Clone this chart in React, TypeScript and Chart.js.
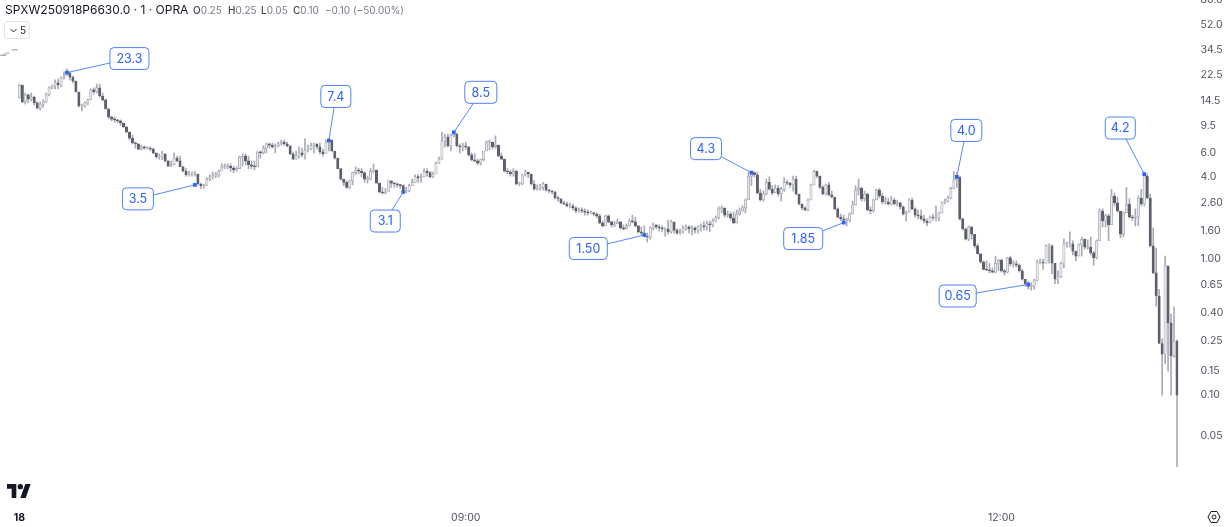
import React, { useEffect, useRef } from "react";
import { Chart, registerables } from "chart.js";

Chart.register(...registerables);

const closes = [
  31,32,32.5,null,34,34,18.9,14.2,16.0,14.9,
  15.4,14.0,12.8,13.7,14.2,16.0,18.0,18.6,19.6,18.9,
  21.3,22.0,23.2,21.6,20.2,16.8,13.3,13.3,14.0,14.7,
  17.4,16.8,18.0,15.7,14.7,12.6,11.0,10.6,10.5,10.3,
  9.95,9.3,8.55,7.7,7.1,7.0,6.4,6.65,6.5,6.5,
  6.4,6.0,5.6,5.6,5.9,5.25,4.8,4.9,5.5,5.25,
  4.75,4.4,4.15,4.2,4.2,4.2,3.55,3.45,3.45,3.85,
  4.0,4.05,4.15,4.4,4.75,4.75,4.8,4.65,4.5,4.6,
  5.6,5.7,5.25,4.9,4.8,4.75,6.1,6.0,6.5,7.0,
  6.85,6.65,6.75,7.0,7.2,7.0,6.75,5.9,5.4,5.7,
  6.0,5.8,6.3,6.4,6.75,7.0,6.65,6.1,5.9,7.1,
  7.45,6.2,5.5,4.6,3.85,3.65,3.35,3.75,4.3,4.5,
  4.4,4.3,3.85,3.85,4.4,4.5,3.6,3.1,3.05,3.1,
  3.75,3.6,3.55,3.5,3.45,3.15,3.15,3.45,3.65,4.0,
  3.95,4.0,4.4,4.3,4.0,4.2,5.05,5.4,7.35,7.85,
  6.75,8.1,8.25,6.75,6.65,6.75,6.65,5.8,5.35,5.25,
  5.05,5.35,6.2,7.2,7.2,6.65,6.85,5.7,5.4,4.4,
  4.35,4.2,4.4,3.55,3.55,4.15,4.35,4.2,3.55,3.25,
  3.3,3.35,3.55,3.2,3.15,3.1,2.8,2.76,2.58,2.53,
  2.45,2.45,2.37,2.25,2.29,2.25,2.21,2.18,2.18,2.14,
  2.07,1.84,1.75,2.07,1.87,1.78,1.81,1.87,1.69,1.66,
  1.75,1.90,1.87,1.75,1.58,1.55,1.47,1.45,1.69,1.78,
  1.72,1.69,1.66,1.66,1.58,1.87,1.63,1.55,1.58,1.66,
  1.72,1.66,1.69,1.63,1.72,1.75,1.72,1.81,1.78,1.90,
  2.0,2.33,2.37,2.10,2.14,2.0,1.84,2.14,2.25,2.37,
  2.71,4.05,4.3,4.15,3.05,2.71,3.0,3.65,3.25,3.05,
  3.3,3.0,3.25,3.65,3.6,3.5,3.85,3.0,2.53,2.37,
  2.29,2.71,3.5,4.4,4.05,3.35,3.0,3.5,2.95,2.85,
  2.33,2.03,1.97,1.93,1.93,2.14,2.49,3.2,3.3,2.76,
  3.0,2.29,2.25,2.71,3.2,2.9,2.62,2.62,2.53,2.71,
  2.53,2.58,2.41,2.14,2.21,2.71,2.33,2.10,2.07,1.97,
  1.90,1.84,2.03,2.0,2.0,2.18,2.58,2.66,2.8,3.3,
  3.8,4.0,1.97,1.66,1.40,1.72,1.52,1.25,1.09,0.95,
  0.84,0.83,0.82,0.80,0.93,0.98,0.82,0.80,1.02,0.92,
  0.92,0.90,0.82,0.71,0.66,0.63,0.63,0.70,0.95,0.95,
  0.93,1.25,1.25,0.93,0.71,0.74,0.93,1.29,1.29,1.29,
  1.14,1.05,1.27,1.40,1.22,1.22,1.11,1.02,1.36,2.25,
  1.90,2.07,1.78,2.9,2.58,2.25,1.52,2.18,2.53,2.03,
  2.0,2.03,2.8,2.53,4.05,2.8,1.25,0.79,0.535,0.24,
  0.20,0.89,0.34,0.195,0.25,0.10,
];

const highs = [
  31,32,32.5,null,34,34,19.2,18.9,16.5,16.2,
  16.5,15.7,14.2,14.2,14.7,16.5,18.3,18.9,20.6,20.9,
  21.6,23.6,24.8,23.6,22.0,20.2,16.8,13.7,14.2,14.9,
  17.7,18.0,19.2,19.2,16.5,14.9,12.8,11.2,11.0,10.6,
  10.5,9.95,9.45,8.55,8.1,7.2,7.0,6.85,6.75,6.65,
  6.65,6.5,5.9,5.9,6.2,5.9,5.25,5.25,6.0,5.7,
  5.7,4.8,4.6,4.4,4.35,4.4,4.2,3.6,3.55,3.95,
  4.15,4.35,4.3,4.5,5.0,5.0,5.0,5.0,4.8,4.75,
  5.7,5.9,5.9,5.7,5.25,5.25,6.1,6.2,6.75,7.1,
  7.1,7.1,7.0,7.2,7.45,7.45,7.2,6.75,6.1,6.2,
  6.65,6.5,7.6,6.85,7.1,7.1,7.0,7.1,6.4,7.45,
  7.6,7.35,6.2,5.5,4.6,3.85,3.75,3.8,4.35,4.75,
  4.65,4.6,4.35,4.05,4.6,5.0,4.5,3.6,3.35,3.3,
  3.8,3.75,3.65,3.6,3.55,3.5,3.35,3.55,3.85,4.15,
  4.15,4.2,4.6,4.6,4.4,4.35,5.15,5.6,8.55,8.25,
  8.25,8.25,8.55,8.4,7.0,7.1,7.2,6.65,6.0,5.9,
  5.4,5.4,6.2,7.35,7.45,7.0,8.0,6.85,6.0,5.4,
  4.6,4.5,4.6,4.5,3.65,4.2,4.5,4.35,4.2,3.75,
  3.5,3.55,3.65,3.55,3.25,3.2,3.15,2.9,2.76,2.66,
  2.62,2.58,2.53,2.41,2.37,2.37,2.33,2.29,2.25,2.21,
  2.18,2.14,1.90,2.10,2.10,1.90,1.90,1.97,1.87,1.78,
  1.81,1.97,2.10,2.03,1.75,1.72,1.75,1.55,1.72,1.84,
  1.78,1.78,1.75,1.69,1.93,1.93,1.72,1.66,1.66,1.75,
  1.78,1.75,1.75,1.72,1.75,1.81,1.87,1.90,1.90,1.97,
  2.07,2.41,2.45,2.29,2.25,2.21,2.21,2.29,2.37,2.45,
  2.76,4.3,4.4,4.35,4.35,3.25,3.15,3.85,4.0,3.45,
  3.5,3.45,3.35,3.95,3.8,3.65,4.05,4.05,3.0,2.53,
  2.41,2.76,3.55,4.5,4.35,4.05,3.45,3.55,3.65,3.15,
  2.8,2.37,2.14,2.10,2.0,2.18,2.66,3.45,3.85,3.35,
  3.15,3.05,2.41,2.76,3.25,3.3,3.05,2.85,2.8,2.9,
  2.8,2.71,2.62,2.45,2.25,2.76,2.8,2.37,2.29,2.29,
  2.10,1.97,2.07,2.14,2.45,2.21,2.62,2.76,2.9,3.35,
  4.4,4.3,4.0,2.0,1.69,1.75,1.72,1.52,1.29,1.09,
  0.97,0.97,0.93,0.86,1.05,1.0,1.0,0.84,1.03,1.05,
  0.97,0.97,0.92,0.84,0.71,0.69,0.67,0.71,0.98,1.0,
  1.0,1.27,1.29,1.27,0.92,0.82,0.95,1.40,1.33,1.58,
  1.36,1.14,1.29,1.45,1.40,1.38,1.45,1.14,1.38,2.33,
  2.33,2.14,2.14,3.25,3.05,2.85,2.21,2.21,3.35,2.76,
  2.10,2.33,2.9,3.25,4.15,4.2,3.0,1.69,1.20,0.60,
  0.26,1.05,0.87,0.395,0.445,0.255,
];

const lows = [
  31,32,32.5,null,34,34,15.2,14.0,13.7,14.0,
  14.4,13.5,12.6,12.4,13.0,14.0,15.7,17.7,17.7,17.7,
  18.3,20.9,22.4,20.6,19.6,16.8,13.0,12.2,13.0,13.5,
  14.7,16.2,16.5,15.4,14.4,12.6,10.8,10.3,10.1,9.95,
  9.6,9.15,8.4,7.45,7.0,6.5,6.3,6.3,6.4,6.4,
  6.2,5.9,5.5,5.4,5.35,5.15,4.75,4.75,4.9,5.15,
  4.75,4.35,4.05,4.05,4.05,4.05,3.5,3.3,3.3,3.5,
  3.75,3.85,3.95,4.0,4.5,4.6,4.6,4.4,4.3,4.4,
  4.75,4.8,4.9,4.6,4.6,4.5,5.05,5.5,5.9,6.0,
  6.5,6.5,6.0,6.65,6.85,6.85,6.65,5.8,5.35,5.4,
  5.5,5.6,5.4,6.1,6.3,6.0,6.4,5.9,5.7,6.0,
  6.2,6.1,5.4,4.6,3.8,3.45,3.3,3.3,3.5,4.15,
  4.2,4.0,3.65,3.6,3.8,4.3,3.6,3.05,3.0,3.0,
  3.15,3.35,3.35,3.35,3.3,3.1,3.05,3.1,3.45,3.65,
  3.65,3.65,4.0,4.05,3.95,3.95,4.3,5.0,5.4,6.65,
  6.65,6.2,7.85,6.65,6.0,6.2,6.4,5.7,5.25,5.15,
  4.9,4.9,5.25,6.2,6.3,6.4,6.5,5.6,5.35,4.35,
  4.2,4.05,4.05,3.5,3.45,3.5,4.05,3.95,3.5,3.2,
  3.2,3.2,3.2,3.15,3.05,3.0,2.76,2.66,2.53,2.49,
  2.41,2.37,2.29,2.18,2.21,2.18,2.10,2.10,2.14,2.07,
  2.0,1.81,1.72,1.75,1.84,1.72,1.72,1.81,1.66,1.63,
  1.66,1.75,1.84,1.72,1.55,1.50,1.45,1.33,1.40,1.63,
  1.66,1.60,1.58,1.47,1.52,1.55,1.55,1.52,1.52,1.55,
  1.63,1.55,1.50,1.55,1.55,1.60,1.63,1.63,1.58,1.72,
  1.87,1.97,2.18,2.03,2.03,1.93,1.81,1.84,2.10,2.25,
  2.18,2.8,3.45,4.0,3.0,2.66,2.66,2.95,3.2,2.95,
  3.05,2.9,2.66,3.15,3.5,3.35,3.15,2.95,2.49,2.29,
  2.25,2.25,2.71,3.5,3.95,3.3,2.95,2.95,2.9,2.8,
  2.29,2.0,1.90,1.87,1.75,1.87,2.14,2.49,2.95,2.66,
  2.66,2.25,2.14,2.21,2.71,2.8,2.53,2.53,2.49,2.49,
  2.49,2.45,2.33,2.10,1.90,2.21,2.29,2.03,1.97,1.93,
  1.84,1.75,1.84,1.93,1.90,1.90,2.18,2.53,2.62,2.76,
  3.3,3.35,1.93,1.63,1.38,1.36,1.40,1.20,1.09,0.93,
  0.83,0.82,0.79,0.79,0.79,0.82,0.80,0.76,0.79,0.89,
  0.87,0.87,0.80,0.70,0.63,0.60,0.59,0.60,0.69,0.92,
  0.84,0.93,0.93,0.78,0.66,0.66,0.73,0.86,1.22,1.22,
  1.07,0.97,1.09,1.05,1.18,1.18,1.07,0.90,1.0,1.38,
  1.72,1.72,1.36,2.10,2.45,2.21,1.43,1.45,2.37,2.0,
  1.93,1.75,1.75,2.45,2.45,2.76,1.22,0.78,0.45,0.24,
  0.10,0.17,0.15,0.10,0.19,0.03,
];

const sessionOpenIndex = 6;
const sessionOpen = 15.2;

const priceTicks = [80, 52, 34.5, 22.5, 14.5, 9.5, 6, 4, 2.6, 1.6, 1, 0.65, 0.4, 0.25, 0.15, 0.1, 0.05];
const timeTicks: Record<number, string> = { 6: "18", 156: "09:00", 336: "12:00" };

const calloutIndex = [22, 65, 110, 135, 152, 216, 252, 283, 321, 345, 384];
const calloutPrice = [23.3, 3.5, 7.4, 3.1, 8.5, 1.5, 4.3, 1.85, 4.0, 0.65, 4.2];
const calloutText = ["23.3", "3.5", "7.4", "3.1", "8.5", "1.50", "4.3", "1.85", "4.0", "0.65", "4.2"];
const calloutDx = [62.5, -57, 7, -18, 27, -56, -45.5, -40.5, 9.5, -70.5, -24];
const calloutDy = [-14, 14, -44, 29, -40, 13.5, -24, 16, -46.5, 11.5, -46];
const calloutWidth = [39, 31, 30, 30, 32, 38, 31, 39, 31, 37, 30];

const ohlcLetters = ["O", "H", "L", "C"];
const ohlcValues = ["0.25", "0.25", "0.05", "0.10"];
const ohlcLeft = [193, 228, 261, 293];
const ohlcChange = "−0.10 (−50.00%)";

const categories = closes.map((_, i) => {
  const minutes = 6 * 60 + 24 + i;
  return `${String(Math.floor(minutes / 60)).padStart(2, "0")}:${String(minutes % 60).padStart(2, "0")}`;
});

const opens = closes.map((c, i) => {
  if (i === sessionOpenIndex) return sessionOpen;
  return i > 0 && closes[i - 1] != null ? closes[i - 1] : c;
});

const UP_FILL = "#e9eaee";
const UP_EDGE = "#9ea1ab";
const DOWN = "#5d606b";
const WICK = "#a8abb5";
const BLUE = "#2962ff";
const FONT = "Inter, 'Noto Sans', sans-serif";

const calloutPlugin = {
  id: "callouts",
  beforeDatasetsDraw(chart: any) {
    const { ctx, scales } = chart;
    ctx.save();
    calloutIndex.forEach((idx, k) => {
      const px = scales.x.getPixelForValue(idx);
      const py = scales.y.getPixelForValue(calloutPrice[k]);
      const cx = px + calloutDx[k];
      const cy = py + calloutDy[k];
      const w = calloutWidth[k];
      const h = 22;
      ctx.strokeStyle = "#5a87ff";
      ctx.lineWidth = 1;
      ctx.beginPath();
      ctx.moveTo(px, py);
      ctx.lineTo(cx, cy);
      ctx.stroke();
      ctx.beginPath();
      ctx.roundRect(cx - w / 2, cy - h / 2, w, h, 4);
      ctx.fillStyle = "#ffffff";
      ctx.fill();
      ctx.strokeStyle = "#4d80ff";
      ctx.stroke();
      ctx.fillStyle = BLUE;
      ctx.font = `12.5px ${FONT}`;
      ctx.textAlign = "center";
      ctx.textBaseline = "middle";
      ctx.fillText(calloutText[k], cx, cy + 0.5);
    });
    ctx.restore();
  },
};

export default function App() {
  const ref = useRef<HTMLCanvasElement>(null);
  useEffect(() => {
    const isUp = closes.map((c, i) => c != null && c >= (opens[i] as number));
    const chart = new Chart(ref.current as HTMLCanvasElement, {
      type: "bar",
      plugins: [calloutPlugin],
      data: {
        labels: categories,
        datasets: [
          {
            type: "line",
            label: "callouts",
            data: categories.map((_, i) => {
              const k = calloutIndex.indexOf(i);
              return k >= 0 ? calloutPrice[k] : null;
            }),
            showLine: false,
            pointStyle: "rect",
            pointRadius: 2.6,
            pointBackgroundColor: BLUE,
            pointBorderWidth: 0,
            order: 0,
          },
          {
            label: "body",
            data: closes.map((c, i) => (c == null ? null : [opens[i], c])),
            backgroundColor: isUp.map((u) => (u ? UP_FILL : DOWN)),
            borderColor: isUp.map((u) => (u ? UP_EDGE : DOWN)),
            borderWidth: 0.7,
            borderSkipped: false,
            barThickness: 2.4,
            minBarLength: 1,
            grouped: false,
            order: 1,
          },
          {
            label: "wick",
            data: closes.map((c, i) => (c == null ? null : [lows[i], highs[i]])),
            backgroundColor: WICK,
            borderWidth: 0,
            barThickness: 1,
            grouped: false,
            order: 2,
          },
        ] as any,
      },
      options: {
        animation: false,
        responsive: false,
        events: [],
        layout: { padding: 0, autoPadding: false },
        plugins: { legend: { display: false }, tooltip: { enabled: false }, title: { display: false } },
        scales: {
          x: {
            type: "category",
            grid: { display: false, drawTicks: false },
            border: { display: false },
            afterFit(scale: any) {
              scale.height = 22;
              scale.paddingLeft = 0;
              scale.paddingRight = 0;
            },
            ticks: {
              autoSkip: false,
              maxRotation: 0,
              padding: 6,
              color: (c: any) => (c.tick?.label === "18" ? "#131722" : "#50535e"),
              font: (c: any) => ({
                family: FONT,
                size: 10.5,
                weight: c.tick?.label === "18" ? "bold" : "normal",
              }),
              callback: (_v: any, i: number) => timeTicks[i] ?? "",
            },
          },
          y: {
            type: "logarithmic",
            position: "right",
            min: 0.01541,
            max: 92.5,
            grid: { display: false, drawTicks: false },
            border: { display: false },
            afterFit(scale: any) {
              scale.width = 50.5;
              scale.paddingTop = 0;
              scale.paddingBottom = 0;
            },
            afterBuildTicks(scale: any) {
              scale.ticks = priceTicks.map((value) => ({ value }));
            },
            ticks: {
              padding: 22,
              color: "#50535e",
              font: { family: FONT, size: 10.5 },
              autoSkip: false,
              callback: (v: any) => (Number(v) >= 4 ? Number(v).toFixed(1) : Number(v).toFixed(2)),
            },
          },
        },
      } as any,
    });
    return () => chart.destroy();
  }, []);

  return (
    <div style={{ position: "relative", width: 1229, height: 527, overflow: "hidden", background: "#fff", fontFamily: FONT }}>
      <style>{"body{margin:0;overflow:hidden}"}</style>
      <canvas ref={ref} width={1229} height={537} style={{ position: "absolute", left: 0, top: -9, width: 1229, height: 537 }} />
      <div style={{ position: "absolute", left: 5, top: 2, fontSize: 12, lineHeight: "16px", color: "#131722", whiteSpace: "nowrap" }}>
        SPXW250918P6630.0 · 1 · OPRA
      </div>
      {ohlcLetters.map((letter, i) => (
        <div key={letter} style={{ position: "absolute", left: ohlcLeft[i], top: 3, fontSize: 10, lineHeight: "15px", color: "#787b86", whiteSpace: "pre" }}>
          <b style={{ fontWeight: 500, color: "#434651" }}>{letter}</b>
          {ohlcValues[i]}
        </div>
      ))}
      <div style={{ position: "absolute", left: 325, top: 3, fontSize: 10, lineHeight: "15px", color: "#787b86", whiteSpace: "pre" }}>{ohlcChange}</div>
      <div style={{ position: "absolute", left: 4, top: 21, width: 24, height: 16, border: "1px solid #e0e3eb", borderRadius: 3, fontSize: 10, lineHeight: "16px", color: "#131722" }}>
        <svg width="9" height="9" viewBox="0 0 9 9" style={{ position: "absolute", left: 4, top: 4 }}>
          <path d="M1.5 3 L4.5 6 L7.5 3" fill="none" stroke="#131722" strokeWidth="0.9" />
        </svg>
        <span style={{ position: "absolute", left: 15 }}>5</span>
      </div>
      <svg width="24" height="14" viewBox="0 0 36 21" style={{ position: "absolute", left: 7, top: 484 }}>
        <path fill="#131722" d="M14 21H7V7H0V0h14v21zM28 21h-8l7.5-21h8L28 21z" />
        <circle cx="20" cy="4" r="4" fill="#131722" />
      </svg>
      <svg width="14" height="14" viewBox="0 0 14 14" style={{ position: "absolute", left: 1207, top: 510 }}>
        <path d="M4 1.5h6L13 7l-3 5.5H4L1 7z" fill="none" stroke="#131722" strokeWidth="1" />
        <circle cx="7" cy="7" r="2" fill="none" stroke="#131722" strokeWidth="1" />
      </svg>
    </div>
  );
}
